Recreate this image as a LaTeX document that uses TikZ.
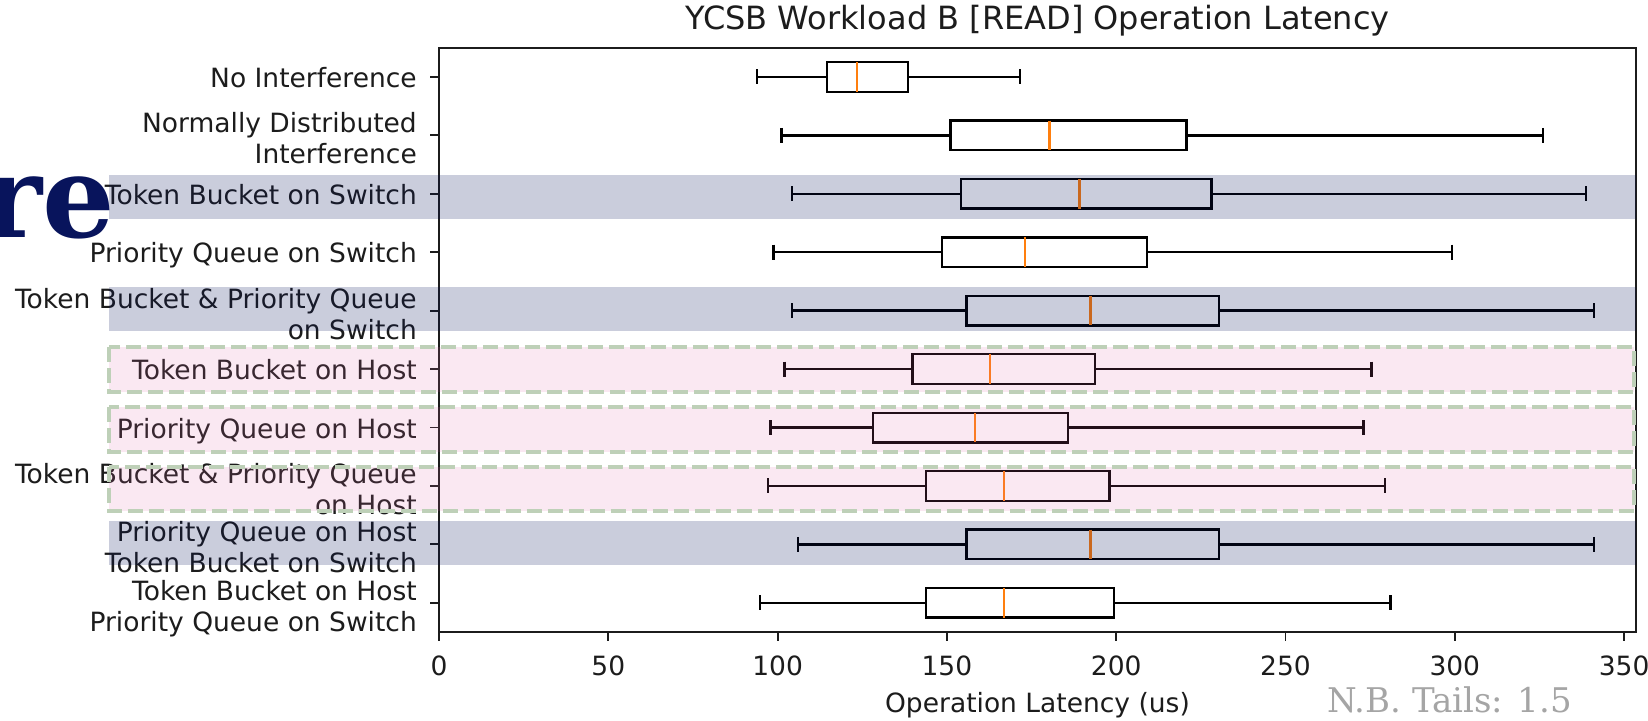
\documentclass[tikz,border=0pt]{standalone}
\usepackage{fontspec}
\setmainfont{DejaVu Sans}
\newfontfamily\nbserif{DejaVu Serif}
\definecolor{navy}{RGB}{8,20,92}
\definecolor{mplorange}{RGB}{255,127,14}
\definecolor{pinkov}{RGB}{222,102,168}
\definecolor{dashgreen}{RGB}{190,208,184}
\definecolor{txt}{RGB}{28,28,28}
\definecolor{nbgray}{RGB}{165,165,165}
\tikzset{
  ylab/.style={anchor=base east, inner sep=0pt, align=right, text=txt,
    font=\fontsize{26.5}{31}\selectfont},
  xtl/.style={anchor=base, inner sep=0pt, text=txt, font=\fontsize{26.5}{31}\selectfont},
  boxln/.style={draw=black, line width=2.4pt},
  medln/.style={draw=mplorange, line width=2.4pt},
  spine/.style={draw=txt, line width=1.8pt},
  tickln/.style={draw=txt, line width=1.8pt},
  blueband/.style={fill=navy, fill opacity=0.21},
  pinkband/.style={fill=pinkov, fill opacity=0.15},
  dashframe/.style={draw=dashgreen, line width=4pt, dash pattern=on 15pt off 6pt},
}
\begin{document}
\begin{tikzpicture}[x=1pt,y=-1pt]
\useasboundingbox (0,0) rectangle (1648,720);
\fill[white] (0,0) rectangle (1648,720);

% title
\node[anchor=base, inner sep=0pt, text=txt, font=\fontsize{32}{38}\selectfont] (title) at (1037.5,29) {YCSB Workload B [READ] Operation Latency};

% boxes
\foreach \i/\lo/\qa/\md/\qc/\hi in {
  1/94.0/114.6/123.4/138.5/171.6,
  2/101.1/151.0/180.3/220.8/326.0,
  3/104.2/154.2/189.1/228.1/338.7,
  4/98.8/148.6/173.1/209.1/299.2,
  5/104.2/155.8/192.4/230.3/341.1,
  6/102.0/139.8/162.8/193.8/275.4,
  7/97.9/128.1/158.3/185.8/273.0,
  8/97.2/143.9/166.9/198.0/279.3,
  9/106.0/155.8/192.4/230.3/341.1,
  10/94.8/143.9/166.9/199.4/281.0} {
  \pgfmathsetmacro\yc{47.7+(\i-0.5)*58.43}
  \pgfmathsetmacro\xlo{439+3.386*\lo}
  \pgfmathsetmacro\xqa{439+3.386*\qa}
  \pgfmathsetmacro\xmd{439+3.386*\md}
  \pgfmathsetmacro\xqc{439+3.386*\qc}
  \pgfmathsetmacro\xhi{439+3.386*\hi}
  \draw[boxln] (\xlo,\yc) -- (\xqa,\yc);
  \draw[boxln] (\xqc,\yc) -- (\xhi,\yc);
  \draw[boxln] (\xlo,\yc-7.5) -- (\xlo,\yc+7.5);
  \draw[boxln] (\xhi,\yc-7.5) -- (\xhi,\yc+7.5);
  \draw[boxln] (\xqa,\yc-14.8) rectangle (\xqc,\yc+14.8);
  \draw[medln] (\xmd,\yc-14.8) -- (\xmd,\yc+14.8);
  \draw[tickln] (430,\yc) -- (439,\yc);
}

% frame
\draw[spine] (439,47.7) rectangle (1636,632);

% x ticks
\foreach \v in {0,50,...,350} {
  \pgfmathsetmacro\xv{439+3.386*\v}
  \draw[tickln] (\xv,632) -- (\xv,641);
  \node[xtl] (xt\v) at (\xv,675) {\v};
}
\node[xtl] (xlabel) at (1037.5,712) {Operation Latency (us)};

% y labels (base anchor = baseline of last line)
\node[ylab] (l1) at (417,{47.7+0.5*58.43+10.6}) {No Interference};
\node[ylab] (l2) at (417,{47.7+1.5*58.43+28.6}) {Normally Distributed\\Interference};
\node[ylab] (l3) at (417,{47.7+2.5*58.43+10.6}) {Token Bucket on Switch};
\node[ylab] (l4) at (417,{47.7+3.5*58.43+10.6}) {Priority Queue on Switch};
\node[ylab] (l5) at (417,{47.7+4.5*58.43+28.6}) {Token Bucket \& Priority Queue\\on Switch};
\node[ylab] (l6) at (417,{47.7+5.5*58.43+10.6}) {Token Bucket on Host};
\node[ylab] (l7) at (417,{47.7+6.5*58.43+10.6}) {Priority Queue on Host};
\node[ylab] (l8) at (417,{47.7+7.5*58.43+28.6}) {Token Bucket \& Priority Queue\\on Host};
\node[ylab] (l9) at (417,{47.7+8.5*58.43+28.6}) {Priority Queue on Host\\Token Bucket on Switch};
\node[ylab] (l10) at (417,{47.7+9.5*58.43+28.6}) {Token Bucket on Host\\Priority Queue on Switch};

% highlight bands
\fill[blueband] (109,175) rectangle (1636,219);
\fill[blueband] (109,287) rectangle (1636,331);
\fill[blueband] (109,521) rectangle (1636,565);
\foreach \ta/\tb in {347.3/392.3, 407/451.7, 466.7/511} {
  \fill[pinkband] (109,\ta) rectangle (1634,\tb);
  \draw[dashframe] (109,\ta) rectangle (1634,\tb);
}

% note
\node[anchor=base west, inner sep=0pt, text=nbgray, font=\nbserif\fontsize{34}{40}\selectfont] (nb) at (1327,712) {N.B. Tails: 1.5};

% cropped slide title fragment
\node[anchor=base east, inner sep=0pt, text=navy, font=\nbserif\bfseries\fontsize{114}{130}\selectfont] (frag) at (115,237) {re};
\end{tikzpicture}
\end{document}
